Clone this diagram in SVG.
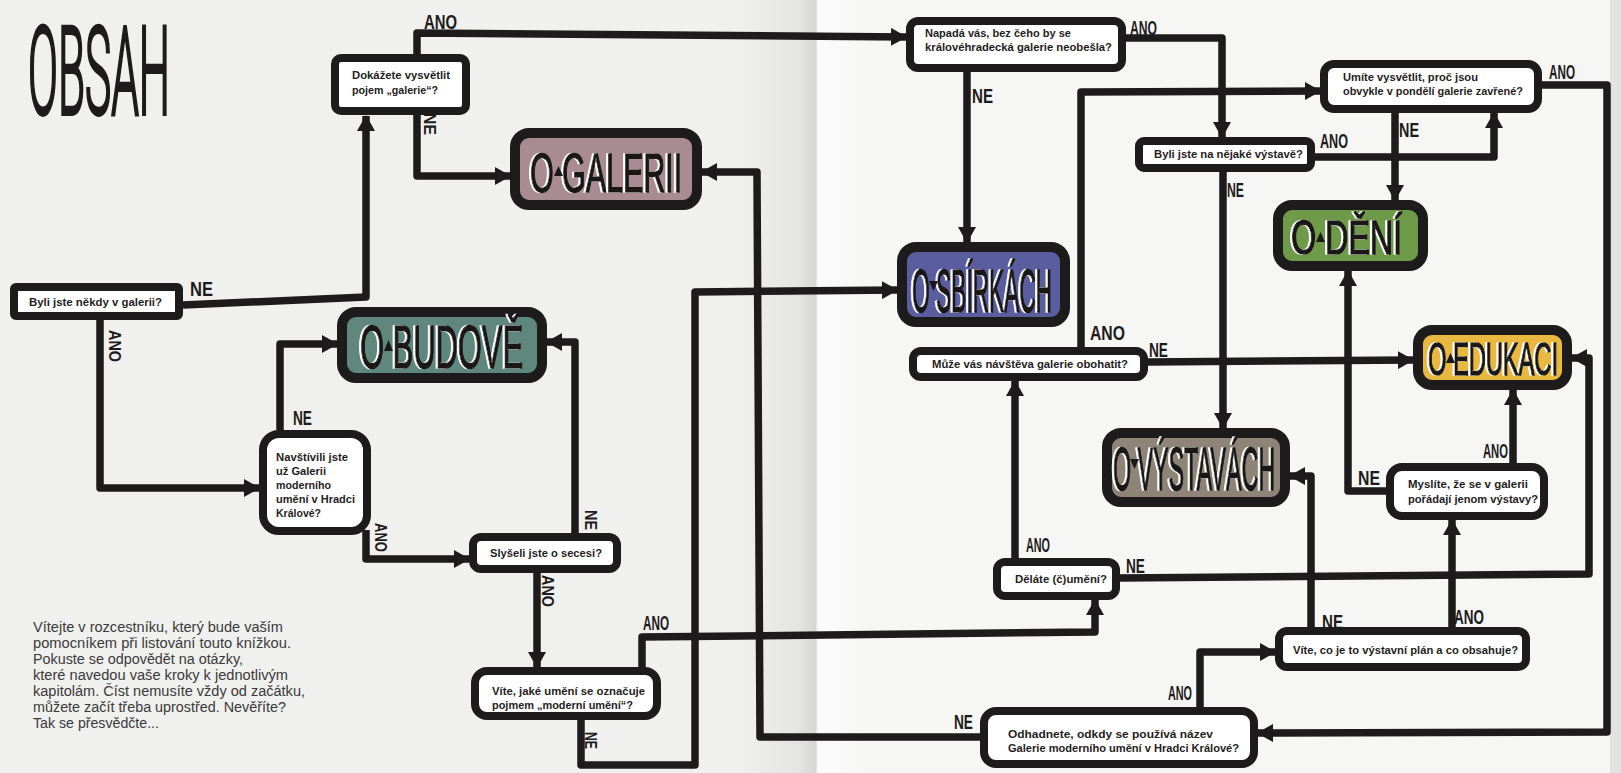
<svg xmlns="http://www.w3.org/2000/svg" width="1621" height="773" viewBox="0 0 1621 773">
<defs>
<style>
.q{font-family:"Liberation Sans",Arial,sans-serif;font-weight:bold;font-size:11.2px;fill:#1f1d1d}
.lab{font-family:"Liberation Sans",Arial,sans-serif;font-weight:bold;font-size:21px;fill:#1d1b1b}
.rl{font-size:17px}
.qb{fill:#fff;stroke:#1d1b1b;stroke-width:8}
.cb{stroke:#1d1b1b;stroke-width:10}
.ch{font-family:"Liberation Sans",Arial,sans-serif;fill:#1a1818;stroke:#1a1818;stroke-width:1.3;vector-effect:non-scaling-stroke;filter:url(#hl)}
.tri{fill:#1a1818}
.intro{font-family:"Liberation Sans",Arial,sans-serif;font-size:14px;fill:#3a3a3a}
.title{font-family:Roboto,"Liberation Sans",Arial,sans-serif;font-weight:300;font-size:41px;fill:#1d1b1b;stroke:#1d1b1b;stroke-width:2.8;vector-effect:non-scaling-stroke}
#connectors path{fill:none;stroke:#1d1b1b;stroke-width:7.5;stroke-linejoin:round;marker-end:url(#ah)}
</style>
<marker id="ah" viewBox="0 0 16 18" refX="15" refY="9" markerWidth="16" markerHeight="18" markerUnits="userSpaceOnUse" orient="auto">
<path d="M0,0 L16,9 L0,18 Z" fill="#1d1b1b"/>
</marker>
<filter id="hl" x="-5%" y="-10%" width="110%" height="120%">
<feOffset in="SourceAlpha" dx="-2.5" dy="0" result="o"/>
<feFlood flood-color="#ffffff"/>
<feComposite in2="o" operator="in" result="w"/>
<feMerge><feMergeNode in="w"/><feMergeNode in="SourceGraphic"/></feMerge>
</filter>
<linearGradient id="gut" x1="740" y1="0" x2="870" y2="0" gradientUnits="userSpaceOnUse">
<stop offset="0" stop-color="#f0f0ee"/>
<stop offset="0.45" stop-color="#e4e4e2"/>
<stop offset="0.58" stop-color="#d6d6d4"/>
<stop offset="0.6" stop-color="#fbfbfb"/>
<stop offset="1" stop-color="#f6f6f5"/>
</linearGradient>
</defs>

<rect x="0" y="0" width="1621" height="773" fill="#f0f0ee"/>
<rect x="820" y="0" width="801" height="773" fill="#f6f6f5"/>
<rect x="740" y="0" width="130" height="773" fill="url(#gut)"/>
<rect x="1610" y="0" width="11" height="773" fill="#e2e2e0"/>

<g id="connectors">
<path d="M183,305 L366,297 L366,116"/>
<path d="M100,320 L100,488 L259,488"/>
<path d="M417,54 L417,33 L906,37"/>
<path d="M417,115 L417,176 L510,176"/>
<path d="M280,430 L280,344 L337,344"/>
<path d="M366,530 L366,559 L469,559"/>
<path d="M575,533 L575,342 L547,342"/>
<path d="M537,573 L537,667"/>
<path d="M642,667 L642,637 L1095,632 L1095,600"/>
<path d="M581,720 L581,765 L695,765 L695,292 L897,290"/>
<path d="M980,737 L760,737 L757,172 L702,172"/>
<path d="M1126,38 L1222,38 L1222,137"/>
<path d="M967,72 L967,242"/>
<path d="M1223,172 L1223,428"/>
<path d="M1315,157 L1494,157 L1494,113"/>
<path d="M1395,113 L1395,200"/>
<path d="M1542,85 L1607,85 L1607,732 L1258,733"/>
<path d="M1081,347 L1081,92 L1320,91"/>
<path d="M1148,362 L1413,360"/>
<path d="M1015,558 L1015,381"/>
<path d="M1120,578 L1589,574 L1589,358 L1572,358"/>
<path d="M1311,627 L1311,476 L1290,476"/>
<path d="M1452,627 L1452,520"/>
<path d="M1386,491 L1348,491 L1348,271"/>
<path d="M1513,463 L1513,390"/>
<path d="M1200,707 L1200,652 L1275,652"/>
</g>

<g id="q-byli">
<rect class="qb" x="14" y="287" width="165" height="29" rx="2"/>
<text class="q" x="29" y="306" textLength="133" lengthAdjust="spacingAndGlyphs">Byli jste někdy v galerii?</text>
</g>
<g id="q-dokazete">
<rect class="qb" x="335" y="58" width="131" height="53" rx="6"/>
<text class="q" x="352" y="79" textLength="98" lengthAdjust="spacingAndGlyphs">Dokážete vysvětlit</text>
<text class="q" x="352" y="94" textLength="86" lengthAdjust="spacingAndGlyphs">pojem „galerie“?</text>
</g>
<g id="q-navstivili">
<rect class="qb" x="263" y="434" width="104" height="97" rx="16"/>
<text class="q" x="276" y="461" textLength="72" lengthAdjust="spacingAndGlyphs">Navštívili jste</text>
<text class="q" x="276" y="475" textLength="50" lengthAdjust="spacingAndGlyphs">už Galerii</text>
<text class="q" x="276" y="489" textLength="55" lengthAdjust="spacingAndGlyphs">moderního</text>
<text class="q" x="276" y="503" textLength="79" lengthAdjust="spacingAndGlyphs">umění v Hradci</text>
<text class="q" x="276" y="517" textLength="45" lengthAdjust="spacingAndGlyphs">Králové?</text>
</g>
<g id="q-slyseli">
<rect class="qb" x="473" y="537" width="144" height="32" rx="8"/>
<text class="q" x="490" y="557" textLength="112" lengthAdjust="spacingAndGlyphs">Slyšeli jste o secesi?</text>
</g>
<g id="q-vite-moderni">
<rect class="qb" x="475" y="671" width="182" height="45" rx="12"/>
<text class="q" x="492" y="695" textLength="153" lengthAdjust="spacingAndGlyphs">Víte, jaké umění se označuje</text>
<text class="q" x="492" y="709" textLength="141" lengthAdjust="spacingAndGlyphs">pojmem „moderní umění“?</text>
</g>
<g id="q-napada">
<rect class="qb" x="910" y="21" width="212" height="47" rx="8"/>
<text class="q" x="925" y="37" textLength="146" lengthAdjust="spacingAndGlyphs">Napadá vás, bez čeho by se</text>
<text class="q" x="925" y="51" textLength="187" lengthAdjust="spacingAndGlyphs">královéhradecká galerie neobešla?</text>
</g>
<g id="q-umite">
<rect class="qb" x="1324" y="64" width="214" height="45" rx="10"/>
<text class="q" x="1343" y="81" textLength="135" lengthAdjust="spacingAndGlyphs">Umíte vysvětlit, proč jsou</text>
<text class="q" x="1343" y="95" textLength="180" lengthAdjust="spacingAndGlyphs">obvykle v pondělí galerie zavřené?</text>
</g>
<g id="q-vystava">
<rect class="qb" x="1139" y="141" width="172" height="27" rx="5"/>
<text class="q" x="1154" y="158" textLength="149" lengthAdjust="spacingAndGlyphs">Byli jste na nějaké výstavě?</text>
</g>
<g id="q-muze">
<rect class="qb" x="913" y="351" width="231" height="26" rx="8"/>
<text class="q" x="932" y="368" textLength="196" lengthAdjust="spacingAndGlyphs">Může vás návštěva galerie obohatit?</text>
</g>
<g id="q-myslite">
<rect class="qb" x="1390" y="467" width="154" height="49" rx="12"/>
<text class="q" x="1408" y="488" textLength="120" lengthAdjust="spacingAndGlyphs">Myslíte, že se v galerii</text>
<text class="q" x="1408" y="503" textLength="130" lengthAdjust="spacingAndGlyphs">pořádají jenom výstavy?</text>
</g>
<g id="q-delate">
<rect class="qb" x="997" y="562" width="119" height="34" rx="8"/>
<text class="q" x="1015" y="583" textLength="92" lengthAdjust="spacingAndGlyphs">Děláte (č)umění?</text>
</g>
<g id="q-plan">
<rect class="qb" x="1279" y="631" width="247" height="36" rx="8"/>
<text class="q" x="1293" y="654" textLength="225" lengthAdjust="spacingAndGlyphs">Víte, co je to výstavní plán a co obsahuje?</text>
</g>
<g id="q-odhadnete">
<rect class="qb" x="984" y="711" width="270" height="53" rx="12"/>
<text class="q" x="1008" y="738" textLength="205" lengthAdjust="spacingAndGlyphs">Odhadnete, odkdy se používá název</text>
<text class="q" x="1008" y="752" textLength="231" lengthAdjust="spacingAndGlyphs">Galerie moderního umění v Hradci Králové?</text>
</g>

<g id="c-galerii">
<rect class="cb" x="515" y="133" width="182" height="72" rx="14" fill="#a98b93"/>
<text class="ch" x="530" y="192" font-size="30.4" transform="matrix(1 0 0 1.84 0 -161.28)" textLength="152" lengthAdjust="spacingAndGlyphs">O GALERII</text>
<path class="tri" d="M554,176 L563,176 L558.5,166 Z"/>
</g>
<g id="c-budove">
<rect class="cb" x="342" y="312" width="200" height="66" rx="14" fill="#5f877d"/>
<text class="ch" x="360" y="368" font-size="30.9" transform="matrix(1 0 0 1.95 0 -349.6)" textLength="163" lengthAdjust="spacingAndGlyphs">O BUDOVĚ</text>
<path class="tri" d="M384,351 L393,351 L388.5,340 Z"/>
</g>
<g id="c-sbirkach">
<rect class="cb" x="902" y="247" width="163" height="75" rx="14" fill="#5a5e9e"/>
<text class="ch" x="912" y="312" font-size="22.7" transform="matrix(1 0 0 2.7 0 -530.4)" textLength="140" lengthAdjust="spacingAndGlyphs">O SBÍRKÁCH</text>
<path class="tri" d="M929,281 L938,281 L933.5,291 Z"/>
</g>
<g id="c-deni">
<rect class="cb" x="1278" y="205" width="145" height="61" rx="14" fill="#6e9a4a"/>
<text class="ch" x="1291" y="254" font-size="32.2" transform="matrix(1 0 0 1.52 0 -132.08)" textLength="111" lengthAdjust="spacingAndGlyphs">O DĚNÍ</text>
<path class="tri" d="M1316,242 L1325,242 L1320.5,232 Z"/>
</g>
<g id="c-edukaci">
<rect class="cb" x="1418" y="330" width="149" height="55" rx="14" fill="#e9b841"/>
<text class="ch" x="1428" y="375" font-size="23.6" transform="matrix(1 0 0 1.95 0 -356.25)" textLength="130" lengthAdjust="spacingAndGlyphs">O EDUKACI</text>
<path class="tri" d="M1446,363 L1455,363 L1450.5,353 Z"/>
</g>
<g id="c-vystavach">
<rect class="cb" x="1107" y="433" width="178" height="69" rx="14" fill="#8e8477"/>
<text class="ch" x="1113" y="490" font-size="22.8" transform="matrix(1 0 0 2.64 0 -803.6)" textLength="162" lengthAdjust="spacingAndGlyphs">O VÝSTAVÁCH</text>
<path class="tri" d="M1130,459 L1139,459 L1134.5,469 Z"/>
</g>

<g id="labels">
<text class="lab" x="424" y="29" textLength="33" lengthAdjust="spacingAndGlyphs">ANO</text>
<text class="lab" x="190" y="296" textLength="23" lengthAdjust="spacingAndGlyphs">NE</text>
<text class="lab" x="293" y="425" textLength="19" lengthAdjust="spacingAndGlyphs">NE</text>
<text class="lab" x="643" y="630" textLength="26" lengthAdjust="spacingAndGlyphs">ANO</text>
<text class="lab" x="1130" y="35" textLength="27" lengthAdjust="spacingAndGlyphs">ANO</text>
<text class="lab" x="972" y="103" textLength="21" lengthAdjust="spacingAndGlyphs">NE</text>
<text class="lab" x="1549" y="79" textLength="26" lengthAdjust="spacingAndGlyphs">ANO</text>
<text class="lab" x="1399" y="137" textLength="20" lengthAdjust="spacingAndGlyphs">NE</text>
<text class="lab" x="1320" y="148" textLength="28" lengthAdjust="spacingAndGlyphs">ANO</text>
<text class="lab" x="1227" y="197" textLength="17" lengthAdjust="spacingAndGlyphs">NE</text>
<text class="lab" x="1090" y="340" textLength="35" lengthAdjust="spacingAndGlyphs">ANO</text>
<text class="lab" x="1149" y="357" textLength="19" lengthAdjust="spacingAndGlyphs">NE</text>
<text class="lab" x="1358" y="485" textLength="22" lengthAdjust="spacingAndGlyphs">NE</text>
<text class="lab" x="1483" y="458" textLength="25" lengthAdjust="spacingAndGlyphs">ANO</text>
<text class="lab" x="1026" y="552" textLength="24" lengthAdjust="spacingAndGlyphs">ANO</text>
<text class="lab" x="1126" y="573" textLength="19" lengthAdjust="spacingAndGlyphs">NE</text>
<text class="lab" x="1322" y="629" textLength="21" lengthAdjust="spacingAndGlyphs">NE</text>
<text class="lab" x="1454" y="624" textLength="30" lengthAdjust="spacingAndGlyphs">ANO</text>
<text class="lab" x="1168" y="700" textLength="24" lengthAdjust="spacingAndGlyphs">ANO</text>
<text class="lab" x="954" y="729" textLength="19" lengthAdjust="spacingAndGlyphs">NE</text>
<text class="lab rl" x="109" y="330" transform="rotate(90 109 330)" textLength="32" lengthAdjust="spacingAndGlyphs">ANO</text>
<text class="lab rl" x="424" y="113" transform="rotate(90 424 113)" textLength="22" lengthAdjust="spacingAndGlyphs">NE</text>
<text class="lab rl" x="375" y="523" transform="rotate(90 375 523)" textLength="29" lengthAdjust="spacingAndGlyphs">ANO</text>
<text class="lab rl" x="585" y="510" transform="rotate(90 585 510)" textLength="20" lengthAdjust="spacingAndGlyphs">NE</text>
<text class="lab rl" x="542" y="575" transform="rotate(90 542 575)" textLength="32" lengthAdjust="spacingAndGlyphs">ANO</text>
<text class="lab rl" x="585" y="732" transform="rotate(90 585 732)" textLength="17" lengthAdjust="spacingAndGlyphs">NE</text>
</g>

<text class="title" x="28" y="114" transform="matrix(1 0 0 3.0 0 -228)" textLength="142" lengthAdjust="spacingAndGlyphs">OBSAH</text>

<g id="intro">
<text class="intro" x="33" y="632" textLength="250" lengthAdjust="spacingAndGlyphs">Vítejte v rozcestníku, který bude vaším</text>
<text class="intro" x="33" y="648" textLength="258" lengthAdjust="spacingAndGlyphs">pomocníkem při listování touto knížkou.</text>
<text class="intro" x="33" y="664" textLength="210" lengthAdjust="spacingAndGlyphs">Pokuste se odpovědět na otázky,</text>
<text class="intro" x="33" y="680" textLength="255" lengthAdjust="spacingAndGlyphs">které navedou vaše kroky k jednotlivým</text>
<text class="intro" x="33" y="696" textLength="272" lengthAdjust="spacingAndGlyphs">kapitolám. Číst nemusíte vždy od začátku,</text>
<text class="intro" x="33" y="712" textLength="253" lengthAdjust="spacingAndGlyphs">můžete začít třeba uprostřed. Nevěříte?</text>
<text class="intro" x="33" y="728" textLength="126" lengthAdjust="spacingAndGlyphs">Tak se přesvědčte...</text>
</g>
</svg>
